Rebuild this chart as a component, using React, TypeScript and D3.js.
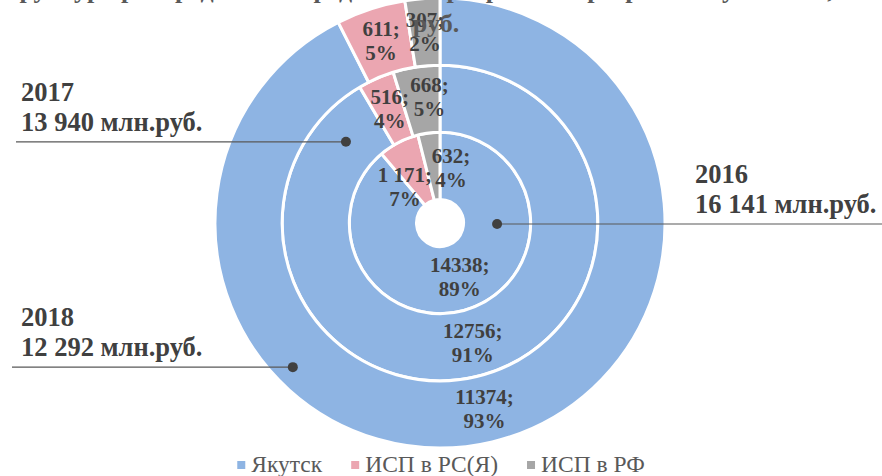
import { useEffect, useRef } from "react";
import * as d3 from "d3";

// rings from inner to outer
const years = ["2016", "2017", "2018"];
const totals = ["16 141 млн.руб.", "13 940 млн.руб.", "12 292 млн.руб."];
const categories = ["Якутск", "ИСП в РС(Я)", "ИСП в РФ"];
const values2016 = [14338, 1171, 632];
const values2017 = [12756, 516, 668];
const values2018 = [11374, 611, 307];
const valueText2016 = ["14338", "1 171", "632"];
const valueText2017 = ["12756", "516", "668"];
const valueText2018 = ["11374", "611", "307"];
const pct2016 = ["89%", "7%", "4%"];
const pct2017 = ["91%", "4%", "5%"];
const pct2018 = ["93%", "5%", "2%"];
const colors = ["#8EB4E3", "#EBA6B1", "#A6A6A6"];

const W = 882;
const H = 476;
const FONT = "Liberation Serif, DejaVu Serif, Times New Roman, serif";

export default function App() {
  const svgRef = useRef<SVGSVGElement>(null);

  useEffect(() => {
    if (!svgRef.current) return;
    const svg = d3.select(svgRef.current);
    svg.selectAll("*").remove();

    const cx = 440;
    const cy = 223;
    const holeR = 23.5;
    const outerR = 225;
    const ringW = (outerR - holeR) / 3;

    const rings = [
      { values: values2016, text: valueText2016, pct: pct2016 },
      { values: values2017, text: valueText2017, pct: pct2017 },
      { values: values2018, text: valueText2018, pct: pct2018 },
    ];

    // a couple of labels on the inner ring are moved apart like in Excel
    const nudge: Record<string, [number, number]> = {
      "0-1": [-9, 15],
      "0-2": [18, 2],
      "1-2": [8, -3],
    };

    const pie = d3.pie<number>().sort(null).value((d) => d);
    const g = svg.append("g").attr("transform", `translate(${cx},${cy})`);

    rings.forEach((ring, ri) => {
      const arc = d3
        .arc<d3.PieArcDatum<number>>()
        .innerRadius(holeR + ri * ringW)
        .outerRadius(holeR + (ri + 1) * ringW);
      g.selectAll(`.slice-${ri}`)
        .data(pie(ring.values))
        .enter()
        .append("path")
        .attr("d", arc)
        .attr("fill", (_, i) => colors[i])
        .attr("stroke", "#fff")
        .attr("stroke-width", 3);
    });

    // title (mostly cut off at the top)
    const title = svg.append("g")
      .attr("font-family", FONT)
      .attr("font-weight", 700)
      .attr("font-size", 26)
      .attr("fill", "#595959");
    title.append("text").attr("x", 441).attr("y", -2).attr("text-anchor", "middle")
      .text("Структура распределения средств по программе в разрезе получателей, млн.");
    title.append("text").attr("x", 436).attr("y", 32).attr("text-anchor", "middle").text("руб.");

    // data labels
    rings.forEach((ring, ri) => {
      const arc = d3
        .arc<d3.PieArcDatum<number>>()
        .innerRadius(holeR + ri * ringW)
        .outerRadius(holeR + (ri + 1) * ringW);
      pie(ring.values).forEach((a, i) => {
        const [x, y] = arc.centroid(a);
        const [dx, dy] = nudge[`${ri}-${i}`] || [0, 0];
        const t = g.append("text")
          .attr("text-anchor", "middle")
          .attr("font-family", FONT)
          .attr("font-weight", 700)
          .attr("font-size", 21)
          .attr("fill", "#404040");
        t.append("tspan").attr("x", x + dx).attr("y", y + dy - 5).text(`${ring.text[i]};`);
        t.append("tspan").attr("x", x + dx).attr("y", y + dy + 19).text(ring.pct[i]);
      });
    });

    // year annotations with leader lines
    const anchors = [
      { angle: 90, r: holeR + ringW * 0.5 },
      { angle: 310.8, r: holeR + ringW * 1.5 },
      { angle: 225.6, r: 206 },
    ];
    const lineEnds = [W, 16, 12];
    const textX = [695, 21, 21];
    anchors.forEach((a, i) => {
      const rad = (a.angle * Math.PI) / 180;
      const px = cx + a.r * Math.sin(rad);
      const py = cy - a.r * Math.cos(rad) + (i === 0 ? 1 : 0);
      svg.append("line")
        .attr("x1", px).attr("x2", lineEnds[i])
        .attr("y1", py).attr("y2", py)
        .attr("stroke", "#595959").attr("stroke-width", 1.2);
      svg.append("circle").attr("cx", px).attr("cy", py).attr("r", 5).attr("fill", "#404040");
      const t = svg.append("text")
        .attr("font-family", FONT).attr("font-weight", 700)
        .attr("font-size", 26.5).attr("fill", "#404040");
      t.append("tspan").attr("x", textX[i]).attr("y", py - 41).text(years[i]);
      t.append("tspan").attr("x", textX[i]).attr("y", py - 11).text(totals[i]);
    });

    // legend
    const legend = svg.append("g");
    let lx = 0;
    categories.forEach((c, i) => {
      const item = legend.append("g").attr("transform", `translate(${lx},0)`);
      item.append("rect").attr("x", 0).attr("y", -11).attr("width", 8).attr("height", 8)
        .attr("fill", colors[i]);
      const txt = item.append("text").attr("x", 14).attr("y", 0)
        .attr("font-family", FONT).attr("font-size", 23.5).attr("fill", "#595959")
        .text(c);
      const w = (txt.node() as SVGTextElement).getComputedTextLength();
      lx += 14 + w + 29;
    });
    const total = lx - 29;
    legend.attr("transform", `translate(${441 - total / 2},472)`);
  }, []);

  return (
    <div style={{ position: "absolute", left: 0, top: 0 }}>
      <svg ref={svgRef} width={W} height={H} style={{ display: "block", background: "#fff" }} />
    </div>
  );
}
